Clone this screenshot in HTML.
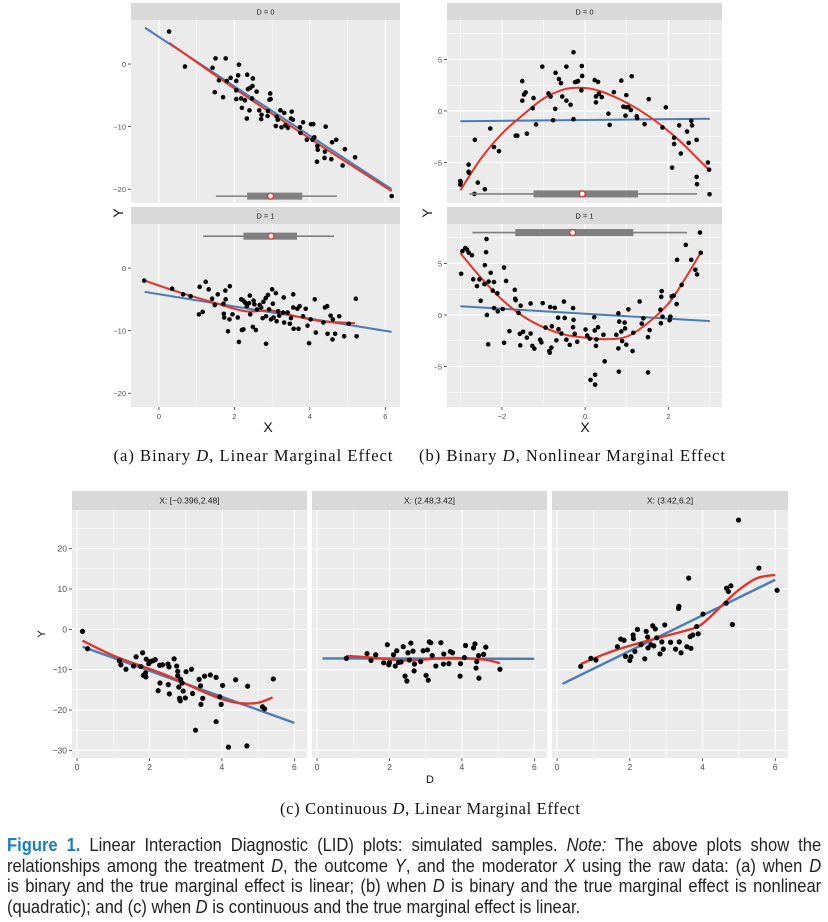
<!DOCTYPE html>
<html><head><meta charset="utf-8">
<style>
body{margin:0;background:#fff;width:828px;height:922px;overflow:hidden;position:relative;font-family:"Liberation Sans",sans-serif}
svg{position:absolute;left:0;top:0}
.cap{position:absolute;left:7px;top:835px;font-family:"Liberation Sans",sans-serif;font-size:18px;line-height:20.5px;color:#222}
.cap div{width:885px;white-space:nowrap;text-align:justify;text-align-last:justify;transform:scaleX(0.92);transform-origin:0 0;height:20.5px}
.cap div.last{text-align-last:left}
.cap b{color:#1a7dc1;font-weight:bold}
</style></head><body>
<svg id="fig" width="828" height="922"></svg>
<div class="cap">
<div><b>Figure 1.</b> Linear Interaction Diagnostic (LID) plots: simulated samples. <i>Note:</i> The above plots show the</div>
<div>relationships among the treatment <i>D</i>, the outcome <i>Y</i>, and the moderator <i>X</i> using the raw data: (a) when <i>D</i></div>
<div>is binary and the true marginal effect is linear; (b) when <i>D</i> is binary and the true marginal effect is nonlinear</div>
<div class="last">(quadratic); and (c) when <i>D</i> is continuous and the true marginal effect is linear.</div>
</div>
<script>
const aTopPts=[[0.27,5.2],[0.69,-0.4],[1.42,-0.6],[1.5,0.9],[1.77,0.9],[1.48,-4.5],[1.59,-2.6],[1.7,-5.3],[1.8,-2.7],[1.9,-2.2],[2.05,-2.7],[2.12,-0.1],[2.1,-1.8],[2.05,-4.2],[2.05,-5.6],[2.18,-5.5],[2.2,-7.0],[2.28,-5.8],[2.34,-1.7],[2.36,-4.0],[2.42,-3.8],[2.48,-3.5],[2.49,-2.3],[2.33,-8.7],[2.4,-7.4],[2.47,-5.5],[2.59,-4.4],[2.66,-7.4],[2.71,-8.8],[2.72,-8.1],[2.89,-7.5],[2.95,-4.7],[2.96,-5.6],[2.93,-5.7],[2.88,-8.3],[3.1,-9.9],[3.12,-8.4],[3.15,-8.9],[3.22,-7.4],[3.25,-10.1],[3.32,-7.8],[3.35,-9.8],[3.42,-10.2],[3.5,-8.7],[3.52,-7.6],[3.55,-8.9],[3.74,-10.1],[3.75,-11.0],[3.82,-9.3],[3.92,-12.1],[4.03,-9.6],[4.09,-9.6],[4.07,-12.1],[4.12,-11.7],[4.2,-13.1],[4.21,-13.7],[4.19,-15.6],[4.4,-14.0],[4.42,-10.0],[4.39,-15.0],[4.57,-15.2],[4.59,-12.5],[4.7,-12.1],[4.87,-16.2],[4.93,-13.6],[5.2,-14.9],[6.17,-21.1]];
const aTopBlue=[[-0.37,5.8],[6.17,-20.0]];
const aTopRed=[[0.27,3.4],[2,-3.9],[4,-11.9],[6.17,-20.3]];
const aTopBox=[1.51,2.34,2.96,3.8,4.72,-21.1];
const aBotPts=[[-0.39,-2.0],[0.35,-3.3],[0.64,-4.2],[0.84,-4.5],[1.08,-3.0],[1.06,-7.4],[1.16,-7.0],[1.24,-2.2],[1.32,-3.4],[1.41,-4.9],[1.48,-5.9],[1.56,-4.2],[1.71,-5.7],[1.72,-7.3],[1.76,-3.6],[1.77,-5.0],[1.73,-7.9],[1.83,-10.1],[1.88,-2.9],[1.87,-8.2],[1.95,-7.4],[2.09,-7.9],[2.12,-11.8],[2.18,-5.0],[2.2,-9.9],[2.24,-5.2],[2.28,-5.5],[2.24,-9.8],[2.33,-6.1],[2.39,-5.6],[2.41,-4.4],[2.42,-7.4],[2.49,-9.4],[2.51,-5.2],[2.53,-5.8],[2.57,-9.9],[2.6,-6.6],[2.67,-5.9],[2.71,-6.3],[2.75,-8.0],[2.77,-5.4],[2.83,-4.8],[2.84,-7.7],[2.84,-12.1],[2.89,-4.3],[2.92,-6.6],[2.97,-8.2],[3.0,-3.4],[3.02,-5.7],[3.04,-7.9],[3.1,-4.0],[3.12,-8.5],[3.16,-6.9],[3.19,-7.6],[3.31,-4.7],[3.29,-7.1],[3.32,-8.7],[3.41,-7.1],[3.47,-8.9],[3.5,-8.0],[3.56,-4.2],[3.56,-6.3],[3.57,-9.7],[3.67,-6.5],[3.7,-9.7],[3.73,-6.1],[3.82,-7.7],[3.89,-6.5],[3.94,-9.2],[3.98,-12.0],[4.02,-8.2],[4.13,-5.0],[4.16,-10.3],[4.4,-6.3],[4.46,-6.1],[4.36,-8.7],[4.47,-10.5],[4.55,-7.6],[4.6,-11.4],[4.61,-8.2],[4.67,-10.5],[4.78,-7.7],[4.91,-10.9],[5.03,-8.9],[5.22,-4.9],[5.24,-10.9]];
const aBotBlue=[[-0.38,-3.8],[6.17,-10.2]];
const aBotRed=[[-0.38,-2.0],[0.5,-3.8],[1.5,-5.6],[2.3,-6.9],[3,-6.8],[3.7,-7.8],[4.3,-8.5],[5.2,-8.8]];
const aBotBox=[1.17,2.24,2.97,3.66,4.64,5.1];
const bTopPts=[[-3.0,-6.8],[-3.0,-7.15],[-2.99,-6.9],[-2.8,-5.2],[-2.8,-5.9],[-2.79,-6.0],[-2.66,-8.05],[-2.65,-2.8],[-2.58,-6.95],[-2.41,-7.6],[-2.28,-1.7],[-2.19,-3.5],[-2.07,-3.9],[-1.67,-2.4],[-1.63,-2.4],[-1.51,2.9],[-1.51,1.0],[-1.47,1.6],[-1.43,1.8],[-1.4,-2.2],[-1.26,0.26],[-1.24,1.25],[-1.18,-1.3],[-1.03,4.3],[-0.88,1.7],[-0.83,1.4],[-0.77,-0.9],[-0.72,0.2],[-0.71,3.7],[-0.63,3.1],[-0.58,2.7],[-0.55,1.4],[-0.45,1.0],[-0.45,4.3],[-0.35,0.6],[-0.28,5.7],[-0.28,-0.8],[-0.24,2.8],[-0.2,2.85],[-0.17,2.9],[-0.09,2.0],[-0.08,4.36],[-0.07,3.4],[0.23,3.0],[0.26,0.83],[0.26,1.41],[0.31,2.82],[0.33,1.67],[0.4,1.35],[0.56,-0.26],[0.59,-1.35],[0.69,1.83],[0.87,2.95],[0.92,0.42],[0.99,1.54],[0.99,0.35],[0.97,-0.45],[1.04,0.38],[1.12,3.37],[1.1,0.1],[1.24,-0.51],[1.25,-0.7],[1.43,-1.28],[1.53,1.15],[1.86,-1.6],[1.94,0.35],[2.09,-5.5],[2.14,-2.6],[2.14,-3.2],[2.26,-1.4],[2.3,-4.13],[2.45,-2.0],[2.49,-3.1],[2.55,-0.96],[2.57,-1.4],[2.68,-2.8],[2.68,-6.4],[2.69,-7.1],[2.95,-5.0],[2.98,-5.7],[2.99,-8.08]];
const bTopBlue=[[-3,-1.0],[3,-0.75]];
const bTopRed=[[-3,-7.7],[-2.5,-4.6],[-2,-2.2],[-1.5,-0.4],[-1,1.2],[-0.5,2.1],[-0.1,2.25],[0.3,2.0],[0.8,1.2],[1.3,0.1],[1.8,-1.3],[2.3,-3.0],[2.7,-4.6],[3,-5.8]];
const bTopBox=[-2.78,-1.24,-0.07,1.27,2.69,-8.05];
const bBotPts=[[-2.98,4.0],[-2.95,6.2],[-2.88,6.5],[-2.84,6.35],[-2.8,6.05],[-2.72,5.8],[-2.69,3.46],[-2.6,2.8],[-2.54,3.46],[-2.51,1.38],[-2.42,3.0],[-2.41,4.84],[-2.38,6.1],[-2.37,7.37],[-2.36,0.0],[-2.33,-2.85],[-2.32,3.24],[-2.27,4.1],[-2.22,2.37],[-2.19,3.2],[-2.19,0.67],[-2.11,2.1],[-2.1,0.35],[-1.95,4.6],[-1.95,-2.7],[-1.9,3.3],[-1.98,0.58],[-1.82,-1.57],[-1.69,2.44],[-1.68,1.57],[-1.67,1.44],[-1.6,0.2],[-1.55,0.9],[-1.57,-1.83],[-1.49,-1.63],[-1.56,-2.95],[-1.4,-2.2],[-1.31,1.12],[-1.31,-1.8],[-1.27,-3.0],[-1.22,-3.27],[-1.08,-2.4],[-1.05,-2.66],[-1.02,1.15],[-0.95,-1.22],[-0.86,-3.5],[-0.85,-3.65],[-0.84,0.77],[-0.81,-3.17],[-0.8,-1.1],[-0.73,0.7],[-0.69,-2.47],[-0.65,-0.26],[-0.64,-1.38],[-0.57,-1.8],[-0.51,1.3],[-0.49,-0.29],[-0.45,-2.4],[-0.37,-2.9],[-0.29,0.67],[-0.29,-1.19],[-0.28,-0.48],[-0.25,-1.83],[-0.19,-2.6],[0.01,-1.41],[0.05,-1.99],[0.11,-2.3],[0.13,-6.3],[0.22,-0.22],[0.23,-1.5],[0.24,-5.8],[0.24,-6.76],[0.26,-3.0],[0.27,-2.37],[0.31,-1.19],[0.44,-1.92],[0.47,-4.5],[0.75,-1.92],[0.8,0.16],[0.8,-3.24],[0.81,-5.5],[0.82,-0.64],[0.87,-1.6],[0.89,-2.53],[0.95,-0.74],[0.96,-1.31],[0.99,-2.88],[1.04,0.54],[1.14,-3.5],[1.16,-1.73],[1.31,1.31],[1.36,-0.83],[1.4,-0.32],[1.51,-2.15],[1.51,-5.58],[1.55,-1.47],[1.81,0.51],[1.82,-0.8],[1.83,1.76],[1.84,2.31],[1.86,-0.16],[2.03,-0.51],[2.05,-0.16],[2.08,1.8],[2.13,1.89],[2.2,1.06],[2.21,5.35],[2.32,2.92],[2.42,6.8],[2.55,5.35],[2.65,4.39],[2.69,3.94],[2.76,8.0],[2.78,6.03]];
const bBotBlue=[[-3,0.85],[3,-0.6]];
const bBotRed=[[-3,6.0],[-2.5,3.6],[-2,1.5],[-1.5,-0.1],[-1,-1.2],[-0.5,-1.9],[0,-2.2],[0.5,-2.35],[1,-2.1],[1.5,-0.8],[2,1.1],[2.4,3.5],[2.8,6.2]];
const bBotBox=[-2.71,-1.68,-0.3,1.16,2.45,8.0];
const c1Pts=[[0.15,-0.5],[0.29,-4.8],[1.17,-7.8],[1.21,-8.8],[1.35,-9.9],[1.56,-9.1],[1.63,-6.8],[1.76,-9.2],[1.81,-5.8],[1.83,-11.4],[1.89,-10.8],[1.9,-11.8],[1.91,-7.4],[1.98,-8.5],[2.02,-8.0],[2.09,-7.8],[2.16,-7.5],[2.24,-15.2],[2.28,-8.9],[2.29,-13.3],[2.36,-8.8],[2.51,-8.6],[2.52,-13.7],[2.54,-9.3],[2.55,-16.0],[2.68,-7.3],[2.75,-9.1],[2.78,-10.4],[2.78,-11.5],[2.81,-14.3],[2.83,-17.1],[2.85,-17.7],[2.86,-12.4],[2.9,-13.3],[2.93,-15.3],[2.99,-17.0],[3.01,-10.5],[3.16,-9.9],[3.19,-15.9],[3.27,-25.0],[3.37,-12.4],[3.41,-14.0],[3.42,-18.6],[3.47,-17.1],[3.52,-11.6],[3.68,-11.3],[3.84,-11.9],[3.84,-22.9],[3.94,-16.7],[3.98,-18.6],[4.02,-13.9],[4.18,-29.2],[4.38,-12.5],[4.69,-28.9],[4.71,-14.1],[5.12,-19.2],[5.18,-19.7],[5.42,-12.3]];
const c1Blue=[[0.15,-4.3],[6.0,-23.2]];
const c1Red=[[0.15,-2.8],[1,-6.5],[2,-9.8],[2.5,-11.5],[3,-13.5],[3.5,-15.5],[4,-17.3],[4.5,-18.3],[5,-18.2],[5.4,-16.9]];
const c2Pts=[[0.81,-7.2],[1.38,-6.0],[1.49,-7.7],[1.62,-6.3],[1.84,-8.3],[1.94,-3.8],[1.98,-8.8],[2.0,-8.2],[2.11,-6.3],[2.16,-9.1],[2.2,-5.3],[2.25,-8.2],[2.32,-8.1],[2.38,-4.3],[2.43,-11.6],[2.48,-12.8],[2.51,-5.8],[2.55,-7.6],[2.59,-3.4],[2.65,-5.4],[2.69,-8.6],[2.68,-10.3],[2.86,-8.0],[2.93,-5.3],[3.01,-11.4],[3.05,-5.1],[3.07,-12.6],[3.1,-3.1],[3.14,-3.3],[3.18,-6.5],[3.28,-9.1],[3.42,-3.3],[3.5,-6.1],[3.49,-8.6],[3.64,-8.5],[3.68,-5.5],[3.74,-5.8],[3.96,-8.5],[3.95,-11.6],[4.07,-7.0],[4.1,-4.0],[4.32,-4.6],[4.36,-3.6],[4.39,-9.6],[4.41,-8.0],[4.46,-6.5],[4.47,-12.1],[4.6,-6.2],[4.66,-4.4],[5.05,-9.9]];
const c2Blue=[[0.15,-7.2],[6.0,-7.3]];
const c2Red=[[0.8,-6.6],[1.5,-7.0],[2.5,-7.7],[3.5,-7.1],[4.2,-7.2],[4.7,-7.6],[5.05,-8.4]];
const c3Pts=[[0.65,-9.2],[0.93,-7.2],[1.07,-7.6],[1.66,-4.3],[1.75,-2.4],[1.84,-2.7],[1.88,-6.7],[2.0,-7.7],[2.03,-6.8],[2.09,-1.4],[2.1,-2.3],[2.14,-5.5],[2.21,0.0],[2.31,-3.8],[2.41,-7.3],[2.45,-0.5],[2.49,-1.9],[2.5,-4.6],[2.58,-3.8],[2.63,0.9],[2.66,-4.1],[2.7,0.1],[2.74,-2.1],[2.83,-6.1],[2.88,-3.1],[2.92,-4.9],[2.96,1.1],[3.12,-3.2],[3.26,-4.9],[3.34,5.2],[3.35,5.7],[3.36,-3.1],[3.41,-5.8],[3.57,-4.3],[3.62,12.7],[3.66,-1.8],[3.68,-4.7],[3.73,-1.4],[3.84,0.7],[3.88,-1.1],[4.01,3.8],[4.65,6.5],[4.66,10.2],[4.71,9.4],[4.78,10.8],[4.82,1.2],[4.99,27.1],[5.55,15.2],[6.05,9.7]];
const c3Blue=[[0.15,-13.5],[6.0,12.3]];
const c3Red=[[0.65,-8.6],[1.5,-5.5],[2.5,-2.8],[3.5,-0.4],[3.9,0.8],[4.2,3.0],[4.6,6.5],[5.0,9.8],[5.5,12.7],[6.0,13.5]];
const aYTicks=[0,-10,-20], aXTicks=[0,2,4,6];
const bYTicks=[-5,0,5], bXTicks=[-2,0,2];
const cYTicks=[-30,-20,-10,0,10,20], cXTicks=[0,2,4,6];

const svg=document.getElementById('fig');
const NS='http://www.w3.org/2000/svg';
function mk(tag,attrs,parent){const e=document.createElementNS(NS,tag);for(const k in attrs)e.setAttribute(k,attrs[k]);(parent||svg).appendChild(e);return e;}
function txt(s,attrs,parent){const e=mk('text',attrs,parent);e.textContent=s;return e;}
function smooth(pts){let d='M'+pts[0][0]+','+pts[0][1];for(let i=0;i<pts.length-1;i++){const p0=pts[i-1]||pts[i],p1=pts[i],p2=pts[i+1],p3=pts[i+2]||p2;const c1=[p1[0]+(p2[0]-p0[0])/6,p1[1]+(p2[1]-p0[1])/6],c2=[p2[0]-(p3[0]-p1[0])/6,p2[1]-(p3[1]-p1[1])/6];d+=' C'+c1[0]+','+c1[1]+' '+c2[0]+','+c2[1]+' '+p2[0]+','+p2[1];}return d;}

function panel(c){
  const g=mk('g',{});
  
  
  const sx=v=>c.x0+(v-c.xd[0])/(c.xd[1]-c.xd[0])*c.w;
  const sy=v=>c.y0+(c.yd[1]-v)/(c.yd[1]-c.yd[0])*c.h;
  const strip=mk('rect',{x:c.x0,y:c.y0-c.sh,width:c.w,height:c.sh,fill:'#d9d9d9'},g);
  
  
  const st=txt(c.strip,{x:c.x0+c.w/2,y:c.y0-c.sh/2+3,'text-anchor':'middle','font-size':c.fs,fill:'#1a1a1a'},g);
  
  
  mk('rect',{x:c.x0,y:c.y0,width:c.w,height:c.h,fill:'#ebebeb'},g);
  const step=c.xt[1]-c.xt[0], ystep=c.yt[1]-c.yt[0];
  for(let v=c.xt[0]-step*2;v<=c.xd[1];v+=step/2){if(v<c.xd[0])continue;const major=c.xt.includes(+v.toFixed(3));mk('line',{x1:sx(v),x2:sx(v),y1:c.y0,y2:c.y0+c.h,stroke:'#fff','stroke-width':major?1.1:0.5},g);}
  for(let v=c.yt[0]-ystep*2;v<=c.yd[1];v+=ystep/2){if(v<c.yd[0])continue;const major=c.yt.includes(+v.toFixed(3));mk('line',{x1:c.x0,x2:c.x0+c.w,y1:sy(v),y2:sy(v),stroke:'#fff','stroke-width':major?1.1:0.5},g);}
  if(c.showY)c.yt.forEach(v=>{mk('line',{x1:c.x0-3,x2:c.x0,y1:sy(v),y2:sy(v),stroke:'#333','stroke-width':0.8},g);const t=txt(v<0?'\u2212'+(-v):String(v),{x:c.x0-5,y:sy(v)+3,'text-anchor':'end','font-size':c.fs,fill:'#4d4d4d'},g);});
  if(c.showX)c.xt.forEach(v=>{mk('line',{x1:sx(v),x2:sx(v),y1:c.y0+c.h,y2:c.y0+c.h+3,stroke:'#333','stroke-width':0.8},g);const t=txt(v<0?'\u2212'+(-v):String(v),{x:sx(v),y:c.y0+c.h+12,'text-anchor':'middle','font-size':c.fs,fill:'#4d4d4d'},g);});
  const lw=c.lw||2;
  const bl=mk('path',{d:smooth(c.blue.map(p=>[sx(p[0]),sy(p[1])])),stroke:'#4c7bb5','stroke-width':lw,fill:'none'},g);
  
  
  const rl=mk('path',{d:smooth(c.red.map(p=>[sx(p[0]),sy(p[1])])),stroke:'#e0352b','stroke-width':lw,fill:'none'},g);
  
  
  c.pts.forEach(p=>{const e=mk('circle',{cx:sx(p[0]),cy:sy(p[1]),r:c.r,fill:'#000'},g);});
  if(c.box){const b=c.box,y=sy(b[5]);
    mk('line',{x1:sx(b[0]),x2:sx(b[4]),y1:y,y2:y,stroke:'#7f7f7f','stroke-width':1.6},g);
    const r=mk('rect',{x:sx(b[1]),y:y-3.5,width:sx(b[3])-sx(b[1]),height:7,fill:'#7f7f7f'},g);
    
    
    mk('circle',{cx:sx(b[2]),cy:y,r:3,fill:'#fff',stroke:'#e0352b','stroke-width':1.3},g);}
}
const aX=[-0.74,6.39], aY=[-22.2,7.04], bX=[-3.32,3.29], bY=[-8.93,8.83], cX=[-0.14,6.35], cY=[-31.9,29.6];
panel({name:'panel-a-d0',x0:131,y0:20,w:269,h:183,sh:17,xd:aX,yd:aY,xt:aXTicks,yt:aYTicks,showY:true,showX:false,strip:'D = 0',fs:7.5,pts:aTopPts,blue:aTopBlue,red:aTopRed,box:aTopBox,r:2.3});
panel({name:'panel-a-d1',x0:131,y0:224,w:269,h:183,sh:17,xd:aX,yd:aY,xt:aXTicks,yt:aYTicks,showY:true,showX:true,strip:'D = 1',fs:7.5,pts:aBotPts,blue:aBotBlue,red:aBotRed,box:aBotBox,r:2.3});
panel({name:'panel-b-d0',x0:447,y0:20,w:275,h:183,sh:17,xd:bX,yd:bY,xt:bXTicks,yt:bYTicks,showY:true,showX:false,strip:'D = 0',fs:7.5,pts:bTopPts,blue:bTopBlue,red:bTopRed,box:bTopBox,r:2.3});
panel({name:'panel-b-d1',x0:447,y0:224,w:275,h:183,sh:17,xd:bX,yd:bY,xt:bXTicks,yt:bYTicks,showY:true,showX:true,strip:'D = 1',fs:7.5,pts:bBotPts,blue:bBotBlue,red:bBotRed,box:bBotBox,r:2.3});
panel({name:'panel-c-low',x0:72,y0:510,w:235,h:248,sh:19,xd:cX,yd:cY,xt:cXTicks,yt:cYTicks,showY:true,showX:true,strip:'X: [\u22120.396,2.48]',fs:8.5,pts:c1Pts,blue:c1Blue,red:c1Red,r:2.6,lw:2.4});
panel({name:'panel-c-mid',x0:312,y0:510,w:235,h:248,sh:19,xd:cX,yd:cY,xt:cXTicks,yt:cYTicks,showY:false,showX:true,strip:'X: (2.48,3.42]',fs:8.5,pts:c2Pts,blue:c2Blue,red:c2Red,r:2.6,lw:2.4});
panel({name:'panel-c-high',x0:552,y0:510,w:236,h:248,sh:19,xd:cX,yd:cY,xt:cXTicks,yt:cYTicks,showY:false,showX:true,strip:'X: (3.42,6.2]',fs:8.5,pts:c3Pts,blue:c3Blue,red:c3Red,r:2.6,lw:2.4});

function lab(s,x,y,fs,name,rot,font,anchor){const t=txt(s,{x:x,y:y,'text-anchor':anchor||'middle','font-size':fs,fill:'#111','font-family':font||'"Liberation Sans",sans-serif'});if(rot)t.setAttribute('transform','rotate(-90 '+x+' '+y+')');return t;}
lab('Y',123,213,14,'y-axis-title-a',true);
lab('Y',432,213,14,'y-axis-title-b',true);
lab('X',268,432,14,'x-axis-title-a');
lab('X',585,432,14,'x-axis-title-b');
lab('Y',45,634,11,'y-axis-title-c',true);
lab('D',430,783,11,'x-axis-title-c');
const sa=lab('',253,461,16.5,'subcaption-a',false,'"Liberation Serif",serif');sa.innerHTML='(a) Binary <tspan font-style="italic">D</tspan>, Linear Marginal Effect';sa.setAttribute('textLength','279');
const sb=lab('',572,461,16.5,'subcaption-b',false,'"Liberation Serif",serif');sb.innerHTML='(b) Binary <tspan font-style="italic">D</tspan>, Nonlinear Marginal Effect';sb.setAttribute('textLength','306');
const sc=lab('',430,814,16.5,'subcaption-c',false,'"Liberation Serif",serif');sc.innerHTML='(c) Continuous <tspan font-style="italic">D</tspan>, Linear Marginal Effect';sc.setAttribute('textLength','300');
</script>
</body></html>
